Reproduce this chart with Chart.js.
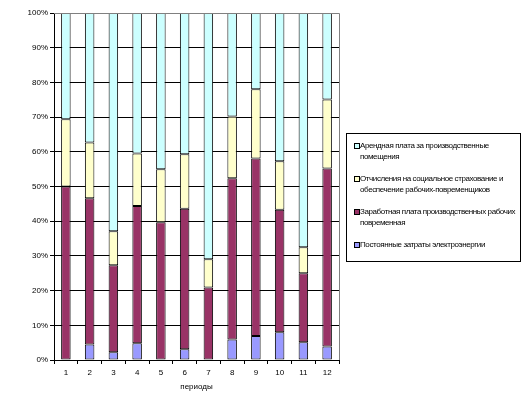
<!DOCTYPE html>
<html>
<head>
<meta charset="utf-8">
<script src="https://cdn.jsdelivr.net/npm/chart.js@4/dist/chart.umd.min.js"></script>
<style>
  html, body { margin: 0; padding: 0; background: #fff; }
  #wrap { position: relative; width: 526px; height: 397px; }
  #legend {
    position: absolute; left: 346px; top: 133px; width: 173px; height: 127px;
    border: 1px solid #000; background: #fff;
    font-family: "Liberation Sans", Arial, sans-serif; font-size: 8px; line-height: 10.5px; color: #000;
    letter-spacing: -0.4px;
  }
  .item { position: absolute; left: 7px; width: 162px; padding-left: 6px; }
  .sw { position: absolute; left: 0; top: 2px; width: 4px; height: 4px; border: 1px solid #000; }
</style>
</head>
<body>
<div id="wrap">
  <canvas id="c" width="526" height="397"></canvas>
  <div id="legend"></div>
</div>
<script>
const categories = ['1','2','3','4','5','6','7','8','9','10','11','12'];
const seriesNames = [
  'Постоянные затраты электроэнергии',
  'Заработная плата производственных рабочих повременная',
  'Отчисления на социальное страхование и обеспечение рабочих-повременщиков',
  'Арендная плата за производственные помещения'
];
const seriesColors = ['#9999FF', '#993366', '#FFFFCC', '#CCFFFF'];
const electricity = [0, 4.5, 2.2, 4.8, 0, 3.1, 0, 5.9, 6.9, 8.0, 5.1, 3.9];
const wages       = [50.0, 42.1, 25.1, 39.6, 39.7, 40.5, 20.9, 46.5, 51.2, 35.3, 19.9, 51.3];
const social      = [19.4, 16.1, 9.8, 15.1, 15.3, 15.7, 8.1, 17.8, 19.9, 14.0, 7.5, 19.9];
const rent        = [30.6, 37.3, 62.9, 40.5, 45.0, 40.7, 71.0, 29.8, 22.0, 42.7, 67.5, 24.9];
const yTicks = [0,10,20,30,40,50,60,70,80,90,100];
const xTitle = 'периоды';

const seriesData = [electricity, wages, social, rent];
const FONT = { family: '"Liberation Sans", Arial, sans-serif', size: 8 };

const frame = {
  id: 'frame',
  afterDraw(chart) {
    const a = chart.chartArea, ctx = chart.ctx;
    ctx.save();
    ctx.strokeStyle = '#808080';
    ctx.lineWidth = 1;
    ctx.beginPath();
    ctx.moveTo(a.left, a.top + 0.5);
    ctx.lineTo(a.right + 0.5, a.top + 0.5);
    ctx.lineTo(a.right + 0.5, a.bottom);
    ctx.stroke();
    ctx.restore();
  }
};

new Chart(document.getElementById('c'), {
  type: 'bar',
  data: {
    labels: categories,
    datasets: seriesData.map((d, i) => ({
      label: seriesNames[i],
      data: d,
      backgroundColor: seriesColors[i],
      borderColor: '#000',
      borderWidth: 1,
      borderSkipped: false,
      categoryPercentage: 1,
      barPercentage: 0.4
    }))
  },
  options: {
    responsive: false,
    animation: false,
    devicePixelRatio: 1,
    layout: { padding: { left: 0, top: 13, right: 187, bottom: 0 } },
    plugins: { legend: { display: false }, tooltip: { enabled: false } },
    scales: {
      x: {
        stacked: true,
        offset: true,
        grid: { display: true, drawOnChartArea: false, offset: true, color: '#000', tickLength: 4 },
        border: { display: true, color: '#000' },
        ticks: { font: FONT, color: '#000', padding: 4, maxRotation: 0 },
        title: { display: true, text: xTitle, font: FONT, color: '#000', padding: { top: 0, bottom: 5 } },
        afterFit(s) { s.height = 37; }
      },
      y: {
        stacked: true,
        min: 0, max: 100,
        afterBuildTicks(s) { s.ticks = yTicks.map(v => ({ value: v })); },
        grid: { color: ctx => ctx.tick && ctx.tick.value === 100 ? '#808080' : '#000', tickColor: '#000', tickLength: 4 },
        border: { display: true, color: '#000' },
        ticks: { font: FONT, color: '#000', padding: 2, callback: v => v + '%' },
        afterFit(s) { s.width = 54; }
      }
    }
  },
  plugins: [frame]
});

const legend = document.getElementById('legend');
const tops = [7, 40, 73, 106];
for (let k = 0; k < 4; k++) {
  const i = 3 - k;
  const el = document.createElement('div');
  el.className = 'item';
  el.style.top = tops[k] + 'px';
  el.innerHTML = '<span class="sw" style="background:' + seriesColors[i] + '"></span>';
  el.appendChild(document.createTextNode(seriesNames[i]));
  legend.appendChild(el);
}
</script>
</body>
</html>
